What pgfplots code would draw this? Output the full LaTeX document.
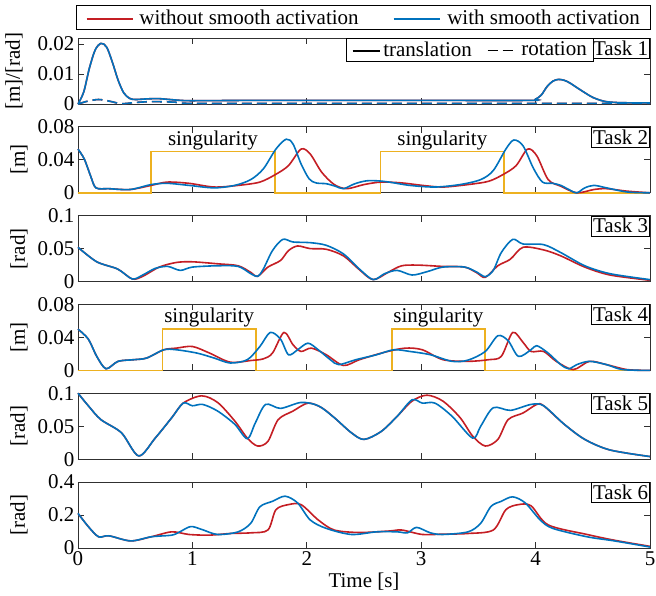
\documentclass[border=0pt]{standalone}
\usepackage{fontspec}
\setmainfont{Liberation Serif}
\usepackage{pgfplots}
\pgfplotsset{compat=1.18}
\definecolor{redline}{HTML}{C41E24}
\definecolor{blueline}{HTML}{0072BD}
\definecolor{sing}{HTML}{EDB120}
\definecolor{axgray}{HTML}{303030}
\newcommand\fs{\fontsize{21}{25}\selectfont}
% small line samples for the legends
\newcommand\sample[2]{\tikz[baseline=-0.55ex]\draw[#1] (0pt,0pt) -- (#2,0pt);}

\pgfplotsset{
  panel/.style={
    scale only axis, width=572pt, height=66pt,
    anchor=north west, xmin=0, xmax=5, ymin=0,
    xtick={0,1,2,3,4,5}, xticklabels={},
    tick align=inside, major tick length=6pt,
    axis line style={axgray, line width=0.8pt},
    tick style={axgray, line width=0.8pt},
    every tick label/.append style={font=\fs, text=black},
    /pgf/number format/assume math mode=true,
    /pgf/number format/fixed, /pgf/number format/precision=3,
    scaled y ticks=false,
    every axis y label/.style={at={(axis description cs:-0.103,0.5)}, rotate=90, anchor=center, font=\fs},
    every axis x label/.style={at={(axis description cs:0.5,0)}, anchor=north, yshift=-21pt, font=\fs},
    clip=false,
  },
  tr/.style={line width=1.6pt, smooth},
}
\tikzset{
  task/.style={draw=black, fill=white, line width=0.6pt, inner xsep=1.5pt, inner ysep=3pt,
    anchor=north east, font=\fs, text height=14pt, text depth=0pt},
  singl/.style={font=\fs, anchor=center},
}

\begin{document}
\begin{tikzpicture}
\useasboundingbox (-78pt,38pt) rectangle (578pt,-557pt);

% ---------- Task 1 ----------
\begin{axis}[panel, at={(0,0)}, ymax=0.022, ytick={0,0.01,0.02},
  ylabel={[m]/[rad]}, every axis y label/.style={at={(axis description cs:-0.112,0.5)}, rotate=90, anchor=center, font=\fs},
  legend columns=2,
  legend style={at={(rel axis cs:0.9003,1)}, anchor=north east, draw=black,
    font=\fs, inner xsep=5pt, inner ysep=2.5pt, nodes={inner sep=1pt, text depth=0.1em},
    /tikz/every odd column/.style={column sep=0pt},
    /tikz/every even column/.style={column sep=13pt}},
]
\addplot[tr, redline, forget plot] coordinates {(0,0) (0.05,0.004) (0.1,0.012) (0.15,0.018) (0.2,0.0202) (0.25,0.019) (0.3,0.014) (0.35,0.008) (0.4,0.0037) (0.45,0.0019) (0.5,0.0015) (0.6,0.0017) (0.7,0.0018) (0.8,0.0015) (0.9,0.0012) (1.0,0.0011) (1.5,0.0012) (2,0.0012) (3,0.0012) (3.95,0.0012) (4.0,0.0016) (4.05,0.003) (4.1,0.0058) (4.15,0.0076) (4.2,0.0082) (4.25,0.0079) (4.3,0.007) (4.4,0.0045) (4.5,0.0022) (4.6,0.0009) (4.7,0.0005) (4.8,0.0004) (5,0.0004)};
\addplot[tr, redline, forget plot, dash pattern=on 10pt off 5pt] coordinates {(0,0) (0.08,0.0009) (0.18,0.0015) (0.28,0.0009) (0.38,0.0001) (0.5,0.0005) (0.65,0.0008) (0.85,0.0006) (1.0,0.0002) (2,0.0002) (3,0.0002) (4,0.0002) (5,0.0002)};
\addplot[tr, blueline, forget plot] coordinates {(0,0) (0.05,0.004) (0.1,0.012) (0.15,0.018) (0.2,0.0202) (0.25,0.019) (0.3,0.014) (0.35,0.008) (0.4,0.0037) (0.45,0.0019) (0.5,0.0015) (0.6,0.0017) (0.7,0.0018) (0.8,0.0015) (0.9,0.0012) (1.0,0.0011) (1.5,0.0012) (2,0.0012) (3,0.0012) (3.95,0.0012) (4.0,0.0016) (4.05,0.003) (4.1,0.0058) (4.15,0.0076) (4.2,0.0082) (4.25,0.0079) (4.3,0.007) (4.4,0.0045) (4.5,0.0022) (4.6,0.0009) (4.7,0.0005) (4.8,0.0004) (5,0.0004)};
\addplot[tr, blueline, forget plot, dash pattern=on 10pt off 5pt] coordinates {(0,0) (0.08,0.0009) (0.18,0.0015) (0.28,0.0009) (0.38,0.0001) (0.5,0.0005) (0.65,0.0008) (0.85,0.0006) (1.0,0.0002) (2,0.0002) (3,0.0002) (4,0.0002) (5,0.0002)};
\addlegendimage{empty legend}
\addlegendentry{\sample{black, line width=1.5pt}{27pt}\hspace{3pt}translation}
\addlegendimage{empty legend}
\addlegendentry{\sample{black, line width=1.5pt, dash pattern=on 10pt off 5pt}{25pt}\hspace{8pt}rotation}
\node[task] at (rel axis cs:1,1) {Task 1};
\end{axis}

% ---------- Task 2 ----------
\begin{axis}[panel, at={(0,-88.8pt)}, ymax=0.08, ytick={0,0.04,0.08}, ylabel={[m]},
  legend columns=2,
  legend style={at={(rel axis cs:1,2.47)}, anchor=south east, draw=black,
    font=\fs, inner xsep=8pt, inner ysep=2pt, nodes={inner sep=2pt, text depth=0.15em},
    /tikz/every odd column/.style={column sep=0pt},
    /tikz/every even column/.style={column sep=30pt}},
]
\addplot[sing, line width=1.6pt, forget plot] coordinates {(0,0) (0.64,0) (0.64,0.05) (1.72,0.05) (1.72,0) (2.645,0) (2.645,0.05) (3.725,0.05) (3.725,0) (5,0)};
\addplot[tr, redline, forget plot] coordinates {(0,0.053) (0.055,0.041) (0.11,0.0205) (0.157,0.006) (0.27,0.005) (0.456,0.004) (0.64,0.009) (0.78,0.013) (0.97,0.0115) (1.19,0.007) (1.40,0.009) (1.59,0.013) (1.73,0.0225) (1.84,0.033) (1.95,0.053) (2.03,0.047) (2.13,0.025) (2.24,0.010) (2.35,0.005) (2.5,0.010) (2.65,0.013) (2.83,0.012) (3.01,0.009) (3.19,0.007) (3.41,0.010) (3.59,0.014) (3.72,0.0225) (3.83,0.033) (3.93,0.053) (4.01,0.045) (4.11,0.016) (4.22,0.008) (4.36,0.0) (4.51,0.004) (4.62,0.005) (4.80,0.002) (5,0)};
\addplot[tr, blueline, forget plot] coordinates {(0,0.053) (0.055,0.041) (0.11,0.0205) (0.157,0.006) (0.27,0.005) (0.456,0.004) (0.64,0.010) (0.78,0.0115) (0.97,0.009) (1.19,0.006) (1.37,0.009) (1.51,0.016) (1.62,0.029) (1.73,0.053) (1.82,0.065) (1.88,0.059) (1.95,0.035) (2.02,0.017) (2.08,0.012) (2.17,0.011) (2.25,0.008) (2.32,0.005) (2.42,0.011) (2.52,0.0145) (2.62,0.0145) (2.72,0.013) (2.90,0.009) (3.12,0.007) (3.34,0.010) (3.52,0.016) (3.63,0.027) (3.74,0.053) (3.81,0.064) (3.89,0.057) (3.98,0.030) (4.06,0.013) (4.15,0.0115) (4.22,0.009) (4.29,0.004) (4.36,0.0) (4.43,0.006) (4.51,0.009) (4.62,0.006) (4.80,0.001) (5,0)};
\addlegendimage{empty legend}
\addlegendentry{\sample{redline, line width=1.6pt}{46pt}\hspace{6pt}without smooth activation}
\addlegendimage{empty legend}
\addlegendentry{\sample{blueline, line width=1.6pt}{46pt}\hspace{7pt}with smooth activation}
\node[singl] at (axis cs:1.18,0.064) {singularity};
\node[singl] at (axis cs:3.185,0.064) {singularity};
\node[task] at (rel axis cs:1,1) {Task 2};
\end{axis}

% ---------- Task 3 ----------
\begin{axis}[panel, at={(0,-177.6pt)}, ymax=0.1, ytick={0,0.05,0.1}, ylabel={[rad]}]
\addplot[tr, redline] coordinates {(0,0.052) (0.164,0.030) (0.347,0.019) (0.474,0.004) (0.566,0.008) (0.71,0.022) (0.86,0.029) (1.0,0.030) (1.22,0.027) (1.40,0.024) (1.51,0.014) (1.57,0.008) (1.66,0.022) (1.77,0.032) (1.84,0.047) (1.92,0.054) (2.03,0.050) (2.17,0.049) (2.32,0.039) (2.46,0.018) (2.58,0.003) (2.72,0.015) (2.83,0.024) (2.97,0.025) (3.19,0.023) (3.38,0.022) (3.49,0.013) (3.56,0.0065) (3.67,0.024) (3.78,0.034) (3.89,0.052) (4.07,0.048) (4.22,0.039) (4.43,0.022) (4.65,0.010) (5,0.002)};
\addplot[tr, blueline] coordinates {(0,0.052) (0.164,0.030) (0.347,0.019) (0.474,0.004) (0.566,0.010) (0.675,0.020) (0.785,0.023) (0.894,0.017) (1.0,0.022) (1.22,0.024) (1.40,0.023) (1.51,0.012) (1.57,0.008) (1.62,0.019) (1.70,0.047) (1.79,0.064) (1.88,0.060) (2.03,0.059) (2.17,0.055) (2.32,0.042) (2.46,0.019) (2.58,0.003) (2.68,0.012) (2.79,0.017) (2.92,0.010) (3.05,0.015) (3.19,0.022) (3.38,0.022) (3.49,0.014) (3.56,0.0075) (3.63,0.017) (3.70,0.044) (3.80,0.064) (3.89,0.057) (4.07,0.056) (4.22,0.044) (4.43,0.024) (4.65,0.012) (5,0.003)};
\node[task] at (rel axis cs:1,1) {Task 3};
\end{axis}

% ---------- Task 4 ----------
\begin{axis}[panel, at={(0,-266.4pt)}, ymax=0.08, ytick={0,0.04,0.08}, ylabel={[m]}]
\addplot[sing, line width=1.6pt] coordinates {(0,0) (0.737,0) (0.737,0.05) (1.556,0.05) (1.556,0) (2.745,0) (2.745,0.05) (3.56,0.05) (3.56,0) (5,0)};
\addplot[tr, redline] coordinates {(0,0.050) (0.09,0.038) (0.164,0.017) (0.245,0.002) (0.35,0.011) (0.49,0.013) (0.60,0.015) (0.75,0.025) (0.86,0.027) (1.0,0.029) (1.15,0.021) (1.33,0.010) (1.51,0.012) (1.62,0.014) (1.70,0.021) (1.80,0.046) (1.88,0.031) (1.95,0.023) (2.04,0.027) (2.17,0.019) (2.32,0.006) (2.46,0.013) (2.68,0.022) (2.86,0.027) (3.01,0.025) (3.19,0.013) (3.41,0.011) (3.59,0.013) (3.70,0.017) (3.80,0.046) (3.89,0.034) (3.96,0.023) (4.07,0.023) (4.18,0.011) (4.33,0.001) (4.47,0.011) (4.62,0.007) (4.80,0.001) (5,0)};
\addplot[tr, blueline] coordinates {(0,0.050) (0.09,0.038) (0.164,0.017) (0.245,0.002) (0.35,0.011) (0.49,0.013) (0.60,0.015) (0.75,0.025) (0.86,0.025) (1.04,0.021) (1.19,0.015) (1.33,0.009) (1.48,0.013) (1.59,0.029) (1.68,0.046) (1.77,0.038) (1.84,0.019) (1.92,0.025) (2.01,0.033) (2.10,0.025) (2.21,0.0125) (2.28,0.007) (2.43,0.013) (2.61,0.019) (2.76,0.025) (2.90,0.023) (3.08,0.019) (3.27,0.011) (3.41,0.0125) (3.56,0.023) (3.67,0.042) (3.76,0.036) (3.85,0.017) (3.96,0.025) (4.01,0.030) (4.11,0.021) (4.22,0.007) (4.29,0.002) (4.36,0.007) (4.47,0.011) (4.62,0.007) (4.76,0.001) (5,0)};
\node[singl] at (axis cs:1.147,0.064) {singularity};
\node[singl] at (axis cs:3.15,0.064) {singularity};
\node[task] at (rel axis cs:1,1) {Task 4};
\end{axis}

% ---------- Task 5 ----------
\begin{axis}[panel, at={(0,-355.2pt)}, ymax=0.1, ytick={0,0.05,0.1}, ylabel={[rad]}]
\addplot[tr, redline] coordinates {(0,0.1) (0.09,0.081) (0.2,0.060) (0.38,0.040) (0.53,0.005) (0.675,0.032) (0.82,0.063) (0.92,0.085) (1.08,0.096) (1.22,0.086) (1.37,0.058) (1.48,0.032) (1.57,0.020) (1.66,0.027) (1.75,0.060) (1.88,0.073) (2.01,0.085) (2.13,0.078) (2.24,0.063) (2.39,0.040) (2.5,0.030) (2.65,0.042) (2.79,0.065) (2.92,0.088) (3.05,0.097) (3.19,0.088) (3.34,0.063) (3.45,0.035) (3.56,0.020) (3.67,0.030) (3.76,0.060) (3.89,0.070) (4.01,0.083) (4.07,0.081) (4.25,0.053) (4.43,0.030) (4.65,0.014) (5,0.004)};
\addplot[tr, blueline] coordinates {(0,0.1) (0.09,0.081) (0.2,0.060) (0.38,0.040) (0.53,0.005) (0.675,0.032) (0.82,0.063) (0.92,0.085) (1.0,0.081) (1.09,0.083) (1.22,0.073) (1.37,0.053) (1.48,0.031) (1.55,0.055) (1.64,0.083) (1.77,0.077) (1.95,0.086) (2.10,0.081) (2.24,0.063) (2.39,0.040) (2.5,0.030) (2.65,0.042) (2.79,0.065) (2.92,0.090) (3.01,0.085) (3.12,0.085) (3.27,0.065) (3.45,0.032) (3.52,0.050) (3.63,0.078) (3.78,0.074) (3.96,0.083) (4.07,0.081) (4.25,0.053) (4.43,0.030) (4.65,0.014) (5,0.004)};
\node[task] at (rel axis cs:1,1) {Task 5};
\end{axis}

% ---------- Task 6 ----------
\begin{axis}[panel, at={(0,-444pt)}, ymax=0.4, ytick={0,0.2,0.4}, ylabel={[rad]},
  xticklabels={0,1,2,3,4,5}, xlabel={Time [s]}]
\addplot[tr, redline] coordinates {(0,0.21) (0.09,0.13) (0.18,0.068) (0.27,0.074) (0.46,0.043) (0.64,0.068) (0.82,0.098) (0.97,0.082) (1.15,0.078) (1.33,0.088) (1.51,0.092) (1.66,0.109) (1.73,0.232) (1.84,0.263) (1.95,0.263) (2.10,0.170) (2.24,0.109) (2.46,0.094) (2.72,0.103) (2.83,0.109) (3.01,0.082) (3.19,0.084) (3.41,0.088) (3.63,0.109) (3.74,0.232) (3.85,0.263) (3.96,0.256) (4.11,0.140) (4.45,0.082) (4.69,0.047) (5,0.010)};
\addplot[tr, blueline] coordinates {(0,0.21) (0.09,0.13) (0.18,0.068) (0.27,0.074) (0.46,0.043) (0.64,0.068) (0.82,0.078) (0.89,0.098) (0.985,0.13) (1.08,0.113) (1.22,0.082) (1.40,0.098) (1.51,0.15) (1.59,0.25) (1.70,0.283) (1.81,0.314) (1.92,0.273) (2.03,0.170) (2.17,0.119) (2.39,0.082) (2.61,0.098) (2.79,0.098) (2.88,0.092) (2.96,0.125) (3.08,0.092) (3.19,0.082) (3.41,0.098) (3.52,0.150) (3.61,0.252) (3.70,0.283) (3.80,0.310) (3.91,0.273) (4.04,0.170) (4.15,0.119) (4.45,0.068) (4.69,0.043) (5,0.006)};
\node[task] at (rel axis cs:1,1) {Task 6};
\end{axis}
\end{tikzpicture}
\end{document}
